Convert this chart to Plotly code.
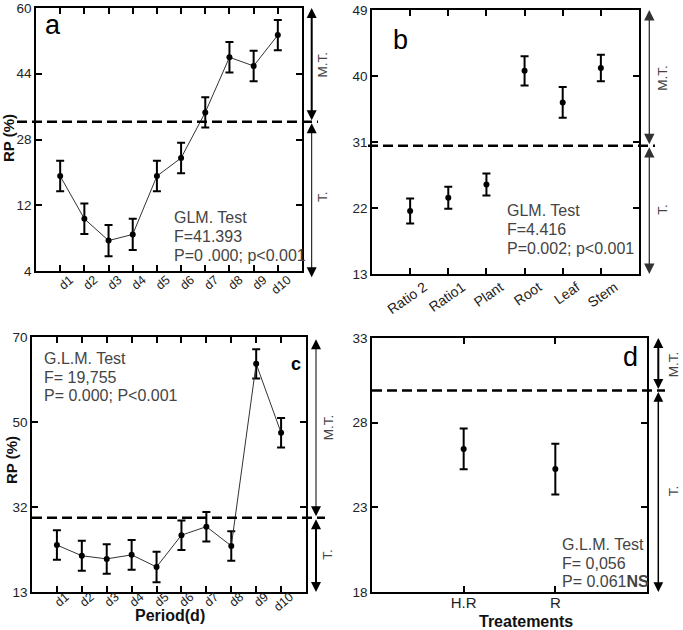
import plotly.graph_objects as go

W, H = 683, 630

# ---------------- data ----------------
# panel a
a_cats = ["d1", "d2", "d3", "d4", "d5", "d6", "d7", "d8", "d9", "d10"]
a_vals = [19.1, 8.7, 3.4, 4.9, 19.1, 23.5, 34.6, 48.0, 45.9, 53.4]
a_err = [3.7, 3.7, 3.8, 3.8, 3.7, 3.7, 3.7, 3.7, 3.7, 3.7]
a_thr = 32.3
a_ticks = [-4, 12, 28, 44, 60]
a_ticktext = ["4", "12", "28", "44", "60"]

# panel b
b_cats = ["Ratio 2", "Ratio1", "Plant", "Root", "Leaf", "Stem"]
b_vals = [21.6, 23.4, 25.2, 40.7, 36.4, 41.1]
b_err = [1.7, 1.5, 1.5, 2.0, 2.1, 1.8]
b_thr = 30.5
b_ticks = [13, 22, 31, 40, 49]

# panel c
c_cats = ["d1", "d2", "d3", "d4", "d5", "d6", "d7", "d8", "d9", "d10"]
c_vals = [23.5, 21.1, 20.4, 21.3, 18.6, 25.7, 27.6, 23.3, 64.0, 48.6]
c_err = [3.3, 3.35, 3.3, 3.3, 3.4, 3.3, 3.3, 3.3, 3.25, 3.3]
c_thr = 29.6
c_ticks = [13, 32, 51, 70]
c_ticktext = ["13", "32", "50", "70"]

# panel d
d_cats = ["H.R", "R"]
d_vals = [26.45, 25.26]
d_err = [1.2, 1.5]
d_thr = 29.9
d_ticks = [18, 23, 28, 33]

FONT = "Arial, Liberation Sans, sans-serif"


def px_x(x):
    return x / W


def px_y(y):
    return 1 - y / H


fig = go.Figure()

err_style = dict(type="data", color="black", thickness=2, width=4)

fig.add_trace(go.Scatter(x=a_cats, y=a_vals, mode="lines+markers",
                         line=dict(color="#333", width=1),
                         marker=dict(color="black", size=6),
                         error_y=dict(array=a_err, **err_style),
                         xaxis="x", yaxis="y"))
fig.add_trace(go.Scatter(x=b_cats, y=b_vals, mode="markers",
                         marker=dict(color="black", size=6),
                         error_y=dict(array=b_err, **err_style),
                         xaxis="x2", yaxis="y2"))
fig.add_trace(go.Scatter(x=c_cats, y=c_vals, mode="lines+markers",
                         line=dict(color="#333", width=1),
                         marker=dict(color="black", size=6),
                         error_y=dict(array=c_err, **err_style),
                         xaxis="x3", yaxis="y3"))
fig.add_trace(go.Scatter(x=d_cats, y=d_vals, mode="markers",
                         marker=dict(color="black", size=6),
                         error_y=dict(array=d_err, **err_style),
                         xaxis="x4", yaxis="y4"))

ax_common = dict(showline=True, linecolor="black", linewidth=1.5, mirror="ticks",
                 ticks="inside", ticklen=6, tickwidth=1.5, tickcolor="black",
                 showgrid=False, zeroline=False, automargin=False,
                 tickfont=dict(family=FONT, size=13.5, color="#222"))


def tf(size):
    return {**ax_common, "tickfont": dict(family=FONT, size=size, color="#222")}


fig.update_layout(
    template="none",
    width=W, height=H, margin=dict(l=0, r=0, t=0, b=0, autoexpand=False),
    plot_bgcolor="white", paper_bgcolor="white", showlegend=False,
    font=dict(family=FONT),
    xaxis=dict(domain=[px_x(36), px_x(302)], anchor="y", type="category",
               range=[-1, len(a_cats)], tickangle=-40, ticklabelshift=10,
               ticklabelstandoff=-5, **tf(12.5)),
    yaxis=dict(domain=[px_y(271), px_y(8)], anchor="x", range=[a_ticks[0], a_ticks[-1]],
               tickvals=a_ticks, ticktext=a_ticktext, **ax_common),
    xaxis2=dict(domain=[px_x(372), px_x(639)], anchor="y2", type="category",
                range=[-1, len(b_cats)], tickangle=-35, ticklabelshift=14,
                ticklabelstandoff=-2, **tf(14)),
    yaxis2=dict(domain=[px_y(274), px_y(10)], anchor="x2", range=[b_ticks[0], b_ticks[-1]],
                tickvals=b_ticks, **ax_common),
    xaxis3=dict(domain=[px_x(32), px_x(306)], anchor="y3", type="category",
                range=[-1, len(c_cats)], tickangle=-40, ticklabelshift=9,
                ticklabelstandoff=-9, **tf(12.5)),
    yaxis3=dict(domain=[px_y(592), px_y(337)], anchor="x3", range=[c_ticks[0], c_ticks[-1]],
                tickvals=c_ticks, ticktext=c_ticktext, **ax_common),
    xaxis4=dict(domain=[px_x(372), px_x(647)], anchor="y4", type="category",
                range=[-1, len(d_cats)], ticklabelstandoff=-4, **tf(15)),
    yaxis4=dict(domain=[px_y(592), px_y(338)], anchor="x4", range=[d_ticks[0], d_ticks[-1]],
                tickvals=d_ticks, **ax_common),
)

# dashed threshold lines
for thr, yref, x0, x1 in [(a_thr, "y", 17, 318), (b_thr, "y2", 368, 655),
                          (c_thr, "y3", 32, 325), (d_thr, "y4", 372, 665)]:
    fig.add_shape(type="line", xref="paper", yref=yref, x0=px_x(x0), x1=px_x(x1),
                  y0=thr, y1=thr, line=dict(color="black", width=2.5, dash="10px,5px"))

ann = []


def arrow(xp, y_head, y_tail, yref, w, s, color="black"):
    ann.append(dict(x=px_x(xp), y=y_head, xref="paper", yref=yref,
                    ax=0, ay=y_tail, axref="pixel", ayref=yref,
                    showarrow=True, arrowhead=2, startarrowhead=2, arrowside="end+start",
                    arrowsize=s, startarrowsize=s, arrowwidth=w, arrowcolor=color,
                    text="", standoff=0, startstandoff=0))


def label(xp, y, yref, txt):
    ann.append(dict(x=px_x(xp), y=y, xref="paper", yref=yref, text=txt, showarrow=False,
                    textangle=-90, font=dict(family=FONT, size=13.5, color="#444"),
                    xanchor="center", yanchor="middle"))


# panel a arrows
arrow(311.7, a_ticks[-1], a_thr, "y", 2, 1.0)
arrow(311.7, a_ticks[0] - 1.5, a_thr, "y", 1, 2.0)
label(322.7, (a_ticks[-1] + a_thr) / 2, "y", "M.T.")
label(322.7, (a_ticks[0] + a_thr) / 2, "y", "T.")
# panel b arrows
arrow(649.3, b_ticks[-1], b_thr, "y2", 1.3, 1.6, "#333")
arrow(649.3, b_ticks[0], b_thr, "y2", 1.3, 1.6, "#333")
label(663, (b_ticks[-1] + b_thr) / 2, "y2", "M.T.")
label(663, (b_ticks[0] + b_thr) / 2, "y2", "T.")
# panel c arrows
arrow(316, c_ticks[-1] - 0.5, c_thr, "y3", 1, 2.0)
arrow(316, c_ticks[0], c_thr, "y3", 2, 1.0)
label(328, (c_ticks[-1] + c_thr) / 2, "y3", "M.T.")
label(328, (c_ticks[0] + c_thr) / 2, "y3", "T.")
# panel d arrows
arrow(658.3, d_ticks[-1], d_thr, "y4", 2, 1.0)
arrow(658.3, d_ticks[0], d_thr, "y4", 1.5, 1.3)
label(673, (d_ticks[-1] + d_thr) / 2, "y4", "M.T.")
label(673, (d_ticks[0] + d_thr) / 2, "y4", "T.")


def ptext(x, y, txt, size=16, color="#444", xanchor="left", bold=False, angle=0):
    ann.append(dict(x=px_x(x), y=px_y(y), xref="paper", yref="paper",
                    text=f"<b>{txt}</b>" if bold else txt, showarrow=False,
                    xanchor=xanchor, yanchor="middle", textangle=angle,
                    font=dict(family=FONT, size=size, color=color)))


# panel letters
ptext(53.3, 25, "a", size=27, color="black", xanchor="center")
ptext(400.8, 40, "b", size=27, color="black", xanchor="center")
ptext(295.5, 364, "c", size=18, color="black", xanchor="center", bold=True)
ptext(630, 357, "d", size=27, color="black", xanchor="center")

# statistics text
for i, t in enumerate(["GLM. Test", "F=41.393", "P=0 .000; p<0.001"]):
    ptext(172, [217, 236, 255][i], t)
for i, t in enumerate(["GLM. Test", "F=4.416", "P=0.002; p<0.001"]):
    ptext(505, [211, 229.5, 249][i], t)
for i, t in enumerate(["G.L.M. Test", "F= 19,755", "P= 0.000; P<0.001"]):
    ptext(41.5, [358, 377, 395.5][i], t)
for i, t in enumerate(["G.L.M. Test", "F= 0,056", "P= 0.061<b>NS</b>"]):
    ptext(560, [544.5, 563, 581.5][i], t)

# axis titles
ptext(8, 138, "RP (%)", size=15, color="#111", xanchor="center", bold=True, angle=-90)
ptext(11, 460, "RP (%)", size=15, color="#111", xanchor="center", bold=True, angle=-90)
ptext(170, 615, "Period(d)", size=16, color="#111", xanchor="center", bold=True)
ptext(525.7, 621, "Treatements", size=16, color="#111", xanchor="center", bold=True)

fig.update_layout(annotations=ann)

fig.write_html("out.html")
